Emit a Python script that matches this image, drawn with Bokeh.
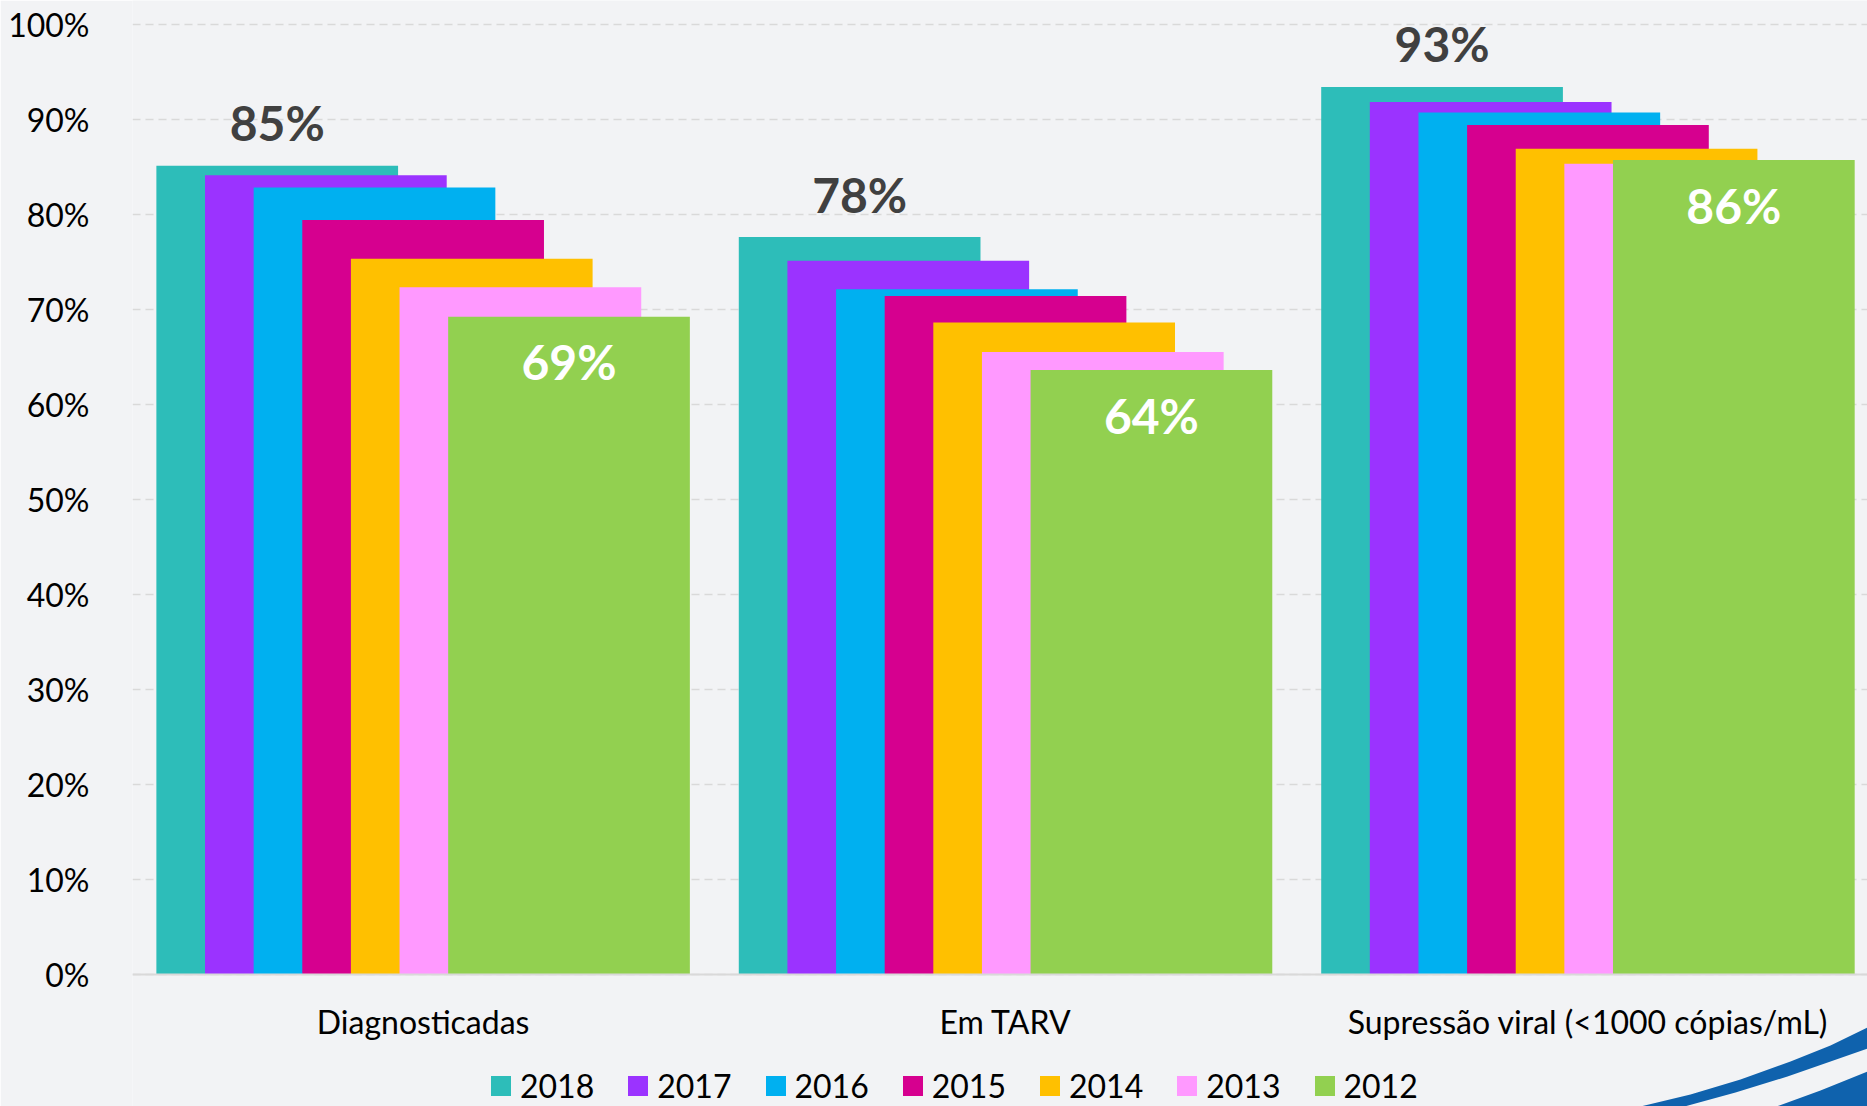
from bokeh.plotting import figure
from bokeh.models import FixedTicker, Legend, LegendItem, Range1d
from bokeh.core.properties import value
from bokeh.embed import file_html
from bokeh.resources import INLINE

# Cascade indicators by year (percent)
categories = ["Diagnosticadas", "Em TARV", "Supressão viral (<1000 cópias/mL)"]
years = ["2018", "2017", "2016", "2015", "2014", "2013", "2012"]
pct_2018 = [85.1, 77.6, 93.4]
pct_2017 = [84.1, 75.1, 91.8]
pct_2016 = [82.8, 72.1, 90.7]
pct_2015 = [79.4, 71.4, 89.4]
pct_2014 = [75.3, 68.6, 86.9]
pct_2013 = [72.3, 65.5, 85.3]
pct_2012 = [69.2, 63.6, 85.7]
y_ticks = [0, 10, 20, 30, 40, 50, 60, 70, 80, 90, 100]
y_tick_labels = ["0%", "10%", "20%", "30%", "40%", "50%", "60%", "70%", "80%", "90%", "100%"]

series = [pct_2018, pct_2017, pct_2016, pct_2015, pct_2014, pct_2013, pct_2012]
colors = ["#2dbdb9", "#9b33ff", "#00b0f0", "#d6008f", "#ffc000", "#ff99ff", "#92d050"]

BG = "#f2f3f5"
FONT = "Lato"
STEP = 0.0835      # horizontal shift between consecutive years
BAR_W = 0.415
W, H = 1867, 1106
LEFT = 132
PX_PER_PCT = 9.5
ZERO_PX = 973.7    # pixel row of the 0% baseline

x_start, x_end = -0.499, 2.48
y_end = 100 + 23.7 / PX_PER_PCT
y_start = -(H - ZERO_PX) / PX_PER_PCT

p = figure(
    width=W, height=H,
    x_range=Range1d(x_start, x_end), y_range=Range1d(y_start, y_end),
    output_backend="svg", toolbar_location=None,
    min_border_left=LEFT, min_border_right=0, min_border_top=0, min_border_bottom=0,
    background_fill_color=BG, border_fill_color=BG, outline_line_color=None,
)

# axes
p.yaxis.ticker = FixedTicker(ticks=y_ticks)
p.yaxis.major_label_overrides = dict(zip(y_ticks, y_tick_labels))
p.yaxis.axis_line_color = None
p.yaxis.major_tick_line_color = None
p.yaxis.minor_tick_line_color = None
p.yaxis.major_label_standoff = 37
p.yaxis.major_label_text_font = FONT
p.yaxis.major_label_text_font_size = "32px"
p.yaxis.major_label_text_color = "#000000"

x_ticks = list(range(len(categories)))
p.xaxis.fixed_location = 0
p.xaxis.ticker = FixedTicker(ticks=x_ticks)
p.xaxis.major_label_overrides = dict(zip(x_ticks, categories))
p.xaxis.axis_line_color = "#d9d9d9"
p.xaxis.axis_line_width = 2
p.xaxis.major_tick_line_color = None
p.xaxis.minor_tick_line_color = None
p.xaxis.major_label_standoff = 22
p.xaxis.major_label_text_font = FONT
p.xaxis.major_label_text_font_size = "32px"
p.xaxis.major_label_text_color = "#000000"

p.xgrid.grid_line_color = None
p.ygrid.ticker = FixedTicker(ticks=y_ticks)
p.ygrid.grid_line_color = "#d9d9d9"
p.ygrid.grid_line_dash = "8 5"
p.ygrid.grid_line_width = 1.5

# corner swoosh decoration (screen pixels converted to data units)
def to_data(pts):
    xs = [x_start + (px - LEFT) * (x_end - x_start) / (W - LEFT) for px, _ in pts]
    ys = [(ZERO_PX - py) / PX_PER_PCT for _, py in pts]
    return xs, ys

band_a = [(1640, 1106), (1690, 1094), (1740, 1079), (1790, 1061), (1830, 1045), (1867, 1027),
          (1867, 1048), (1830, 1061), (1787, 1076), (1735, 1092), (1684, 1106)]
band_b = [(1776, 1106), (1820, 1090), (1867, 1071), (1867, 1106)]
for band in (band_a, band_b):
    bx, by = to_data(band)
    p.patch(bx, by, fill_color="#0f62ad", line_color=None)

# overlapping bars, oldest year drawn last (on top)
items = []
for k, (year, vals, col) in enumerate(zip(years, series, colors)):
    xs = [i + (k - 3) * STEP for i in x_ticks]
    r = p.vbar(x=xs, top=vals, bottom=0, width=BAR_W, fill_color=col, line_color=None)
    items.append(LegendItem(label=year, renderers=[r]))

# value labels: latest year above, earliest year inside
first_x = [i - 3 * STEP for i in x_ticks]
last_x = [i + 3 * STEP for i in x_ticks]
p.text(x=first_x, y=pct_2018, text=[f"{v:.0f}%" for v in pct_2018],
       text_font=value(FONT), text_font_style="bold", text_font_size="48px",
       text_color="#404040", text_align="center", text_baseline="alphabetic",
       y_offset=-43)
p.text(x=last_x, y=pct_2012, text=[f"{v:.0f}%" for v in pct_2012],
       text_font=value(FONT), text_font_style="bold", text_font_size="48px",
       text_color="#ffffff", text_align="center", text_baseline="alphabetic",
       y_offset=45)

legend = Legend(
    items=items, orientation="horizontal", location=(356, 1),
    glyph_width=25, glyph_height=25, label_standoff=7, spacing=31,
    padding=0, margin=0, border_line_color=None, background_fill_alpha=0,
    label_text_font=FONT, label_text_font_size="32px", label_text_color="#000000",
)
p.add_layout(legend)

open("out.html", "w").write(file_html(p, INLINE))
